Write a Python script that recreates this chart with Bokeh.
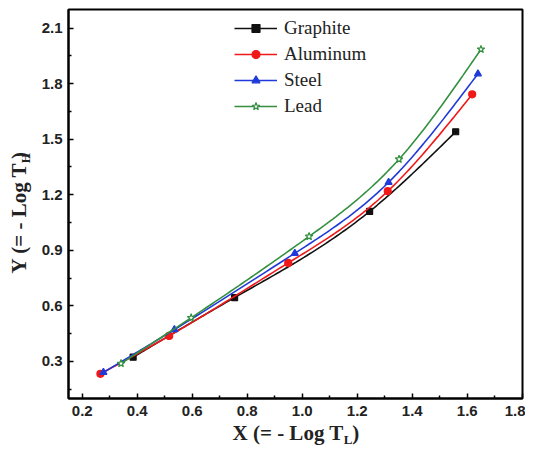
import numpy as np
from bokeh.plotting import figure
from bokeh.models import Range1d, FixedTicker, NumeralTickFormatter, Label, Legend, LegendItem
from bokeh.layouts import column, row
from bokeh.embed import file_html
from bokeh.resources import INLINE

# ---- data ----
graphite_x = [0.385, 0.754, 1.245, 1.558]
graphite_y = [0.323, 0.645, 1.110, 1.540]
aluminum_x = [0.266, 0.516, 0.949, 1.311, 1.618]
aluminum_y = [0.233, 0.438, 0.832, 1.219, 1.742]
steel_x = [0.277, 0.535, 0.973, 1.314, 1.639]
steel_y = [0.241, 0.472, 0.884, 1.267, 1.853]
lead_x = [0.341, 0.596, 1.025, 1.352, 1.650]
lead_y = [0.289, 0.536, 0.975, 1.392, 1.985]

x_ticks = [0.2, 0.4, 0.6, 0.8, 1.0, 1.2, 1.4, 1.6, 1.8]
x_minor = [0.3, 0.5, 0.7, 0.9, 1.1, 1.3, 1.5, 1.7]
y_ticks = [0.3, 0.6, 0.9, 1.2, 1.5, 1.8, 2.1]
y_minor = [0.15, 0.45, 0.75, 1.05, 1.35, 1.65, 1.95]

x_title = ("X (= - Log T", "L", ")")
y_title = ("Y (= - Log T", "H", ")")


def natural_spline(xs, ys, n=120):
    """Smooth drawing path through the data points (like Origin's spline connect)."""
    x = np.asarray(xs, float)
    y = np.asarray(ys, float)
    m = len(x)
    h = np.diff(x)
    A = np.zeros((m, m))
    b = np.zeros(m)
    A[0, 0] = 1
    A[-1, -1] = 1
    for i in range(1, m - 1):
        A[i, i - 1] = h[i - 1]
        A[i, i] = 2 * (h[i - 1] + h[i])
        A[i, i + 1] = h[i]
        b[i] = 3 * ((y[i + 1] - y[i]) / h[i] - (y[i] - y[i - 1]) / h[i - 1])
    c = np.linalg.solve(A, b)
    bb = (np.diff(y) / h) - h * (2 * c[:-1] + c[1:]) / 3
    d = np.diff(c) / (3 * h)
    xx = np.linspace(x[0], x[-1], n)
    idx = np.clip(np.searchsorted(x, xx) - 1, 0, m - 2)
    dx = xx - x[idx]
    yy = y[idx] + bb[idx] * dx + c[idx] * dx ** 2 + d[idx] * dx ** 3
    return xx, yy


TOTAL_W, TOTAL_H = 525, 447
YT_W = 34                       # strip holding the rotated y title
XT_H = 25                       # strip holding the x title
PW = TOTAL_W - YT_W             # main figure width
PH = TOTAL_H - XT_H             # main figure height
BL, BR, BT, BB = 34, 3, 9, 24   # borders around the frame inside the main figure
FH = PH - BT - BB

p = figure(width=PW, height=PH, output_backend="svg", toolbar_location=None,
           x_range=Range1d(0.15, 1.801), y_range=Range1d(0.1, 2.2),
           min_border_left=BL, min_border_right=BR, min_border_top=BT, min_border_bottom=BB)
p.grid.visible = False
p.background_fill_color = "white"
p.border_fill_color = "white"
p.outline_line_color = "black"
p.outline_line_width = 2

for ax in (p.xaxis[0], p.yaxis[0]):
    ax.axis_line_width = 2
    ax.axis_line_color = "black"
    ax.major_tick_in = 5
    ax.major_tick_out = 0
    ax.minor_tick_in = 3
    ax.minor_tick_out = 0
    ax.major_tick_line_width = 1.5
    ax.minor_tick_line_width = 1.5
    ax.major_label_text_font = "Liberation Sans"
    ax.major_label_text_font_style = "bold"
    ax.major_label_text_font_size = "15px"
    ax.major_label_text_color = "#222222"
    ax.formatter = NumeralTickFormatter(format="0.0")

p.xaxis[0].ticker = FixedTicker(ticks=x_ticks, minor_ticks=x_minor)
p.yaxis[0].ticker = FixedTicker(ticks=y_ticks, minor_ticks=y_minor)
p.xaxis[0].major_label_standoff = 7
p.yaxis[0].major_label_standoff = 6

series = [
    ("Graphite", graphite_x, graphite_y, "#111111", "square", 6, "#111111"),
    ("Aluminum", aluminum_x, aluminum_y, "#f01818", "circle", 7, "#f01818"),
    ("Steel", steel_x, steel_y, "#1f3ad8", "triangle", 7, "#1f3ad8"),
    ("Lead", lead_x, lead_y, "#33903f", "star", 8, "white"),
]

items = []
for name, xs, ys, col, mk, sz, fill in series:
    sx, sy = natural_spline(xs, ys)
    r1 = p.line(sx, sy, line_color=col, line_width=1.6)
    r2 = p.scatter(xs, ys, marker=mk, size=sz, line_color=col, fill_color=fill, line_width=1.2)
    items.append(LegendItem(label=name, renderers=[r1, r2]))

legend = Legend(items=items, location=(166, FH - 8 - 111 + 14 - 3), margin=0, padding=7,
                spacing=4, glyph_width=43, glyph_height=20, label_height=20,
                label_standoff=7, label_text_font="Liberation Serif",
                label_text_font_size="19px", label_text_color="#222222",
                border_line_color=None, background_fill_alpha=0)
p.add_layout(legend, "center")


def text_strip(w, h):
    f = figure(width=w, height=h, output_backend="svg", toolbar_location=None,
               x_range=Range1d(0, w), y_range=Range1d(h, 0),
               x_axis_type=None, y_axis_type=None, min_border=0)
    f.grid.visible = False
    f.outline_line_color = None
    f.background_fill_color = "white"
    f.border_fill_color = "white"
    return f


tf = "Liberation Serif"
BIG, SMALL = 21, 13
W_MAIN = 5.292 * BIG        # advance of "X (= - Log T" in bold serif
W_SUB_L = 0.667 * SMALL
W_SUB_H = 0.778 * SMALL
SH = 8.5 / 22                # baseline correction of the label boxes (per px of font size)
AL = 15.0 / 22               # along-text correction for rotated labels (per px of font size)
GAP = 3                      # small extra gap before the rotated subscript

# x title strip (y measured from its own top, strip top at canvas y = PH)
fx = text_strip(TOTAL_W, XT_H)
x0 = 232
base = 441 - PH
fx.add_layout(Label(x=x0, y=base - SH * BIG, text=x_title[0], text_font=tf, text_font_style="bold",
                    text_font_size=f"{BIG}px", text_color="#222222",
                    text_align="left", text_baseline="alphabetic"))
fx.add_layout(Label(x=x0 + W_MAIN, y=base + 3 - SH * SMALL, text=x_title[1], text_font=tf,
                    text_font_style="bold", text_font_size=f"{SMALL}px", text_color="#222222",
                    text_align="left", text_baseline="alphabetic"))
fx.add_layout(Label(x=x0 + W_MAIN + W_SUB_L, y=base - SH * BIG, text=x_title[2], text_font=tf,
                    text_font_style="bold", text_font_size=f"{BIG}px", text_color="#222222",
                    text_align="left", text_baseline="alphabetic"))

# y title strip (rotated text, reading upwards)
fy = text_strip(YT_W, PH)
bx, y0 = 27, 272
fy.add_layout(Label(x=bx - SH * BIG, y=y0 + AL * BIG, text=y_title[0], text_font=tf,
                    text_font_style="bold", angle=np.pi / 2, text_font_size=f"{BIG}px",
                    text_color="#222222", text_align="left", text_baseline="alphabetic"))
fy.add_layout(Label(x=bx + 3 - SH * SMALL, y=y0 - W_MAIN - GAP + AL * SMALL, text=y_title[1],
                    text_font=tf, text_font_style="bold", angle=np.pi / 2,
                    text_font_size=f"{SMALL}px", text_color="#222222",
                    text_align="left", text_baseline="alphabetic"))
fy.add_layout(Label(x=bx - SH * BIG, y=y0 - W_MAIN - GAP - W_SUB_H + AL * BIG, text=y_title[2],
                    text_font=tf, text_font_style="bold", angle=np.pi / 2,
                    text_font_size=f"{BIG}px", text_color="#222222",
                    text_align="left", text_baseline="alphabetic"))

layout = column(row(fy, p, spacing=0), fx, spacing=0)
open("out.html", "w").write(file_html(layout, INLINE))
